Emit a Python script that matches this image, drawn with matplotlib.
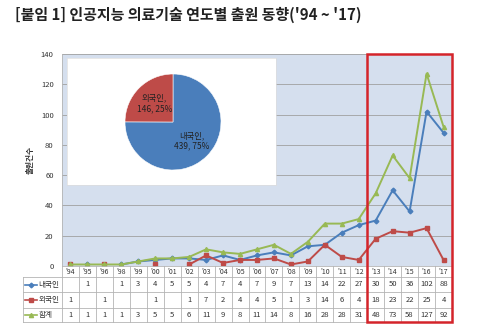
import numpy as np
import matplotlib
matplotlib.use("Agg")
import matplotlib.pyplot as plt
from matplotlib.patches import Rectangle

plt.rcParams['font.family'] = ['Noto Sans CJK KR', 'DejaVu Sans']

# filings per year (blank cells -> nan)
nan = np.nan
years = ["'94", "'95", "'96", "'98", "'99", "'00", "'01", "'02", "'03", "'04", "'05", "'06",
         "'07", "'08", "'09", "'10", "'11", "'12", "'13", "'14", "'15", "'16", "'17"]
domestic = [nan, 1, nan, 1, 3, 4, 5, 5, 4, 7, 4, 7, 9, 7, 13, 14, 22, 27, 30, 50, 36, 102, 88]
foreign = [1, nan, 1, nan, nan, 1, nan, 1, 7, 2, 4, 4, 5, 1, 3, 14, 6, 4, 18, 23, 22, 25, 4]
total = [1, 1, 1, 1, 3, 5, 5, 6, 11, 9, 8, 11, 14, 8, 16, 28, 28, 31, 48, 73, 58, 127, 92]
series_names = ['내국인', '외국인', '합계']

pie_names = ['내국인', '외국인']
pie_values = [439, 146]

highlight_from = "'13"

W, H = 480, 335
BLUE, RED, GREEN = '#4A7EBB', '#BE4B48', '#98B954'
GRID = '#B4B4B4'


def px(x0, y0, x1, y1):
    return [x0 / W, 1 - y1 / H, (x1 - x0) / W, (y1 - y0) / H]


fig = plt.figure(figsize=(W / 100, H / 100), dpi=100)
fig.text(15 / W, 1 - 15 / H, "[붙임 1] 인공지능 의료기술 연도별 출원 동향('94 ~ '17)",
         fontsize=10.8, fontweight='bold', va='center', color='#222222')

ax = fig.add_axes(px(62, 54, 452, 266))
ax.set_facecolor('#D5DFEE')
ax.yaxis.grid(True, color='#A0A0A0', lw=0.6)
ax.set_axisbelow(True)
for s in ['top', 'right']:
    ax.spines[s].set_visible(False)
for s in ['left', 'bottom']:
    ax.spines[s].set_color(GRID)
    ax.spines[s].set_linewidth(0.6)

x = np.arange(len(years))
styles = [(domestic, BLUE, 'D', 2.4), (foreign, RED, 's', 2.8), (total, GREEN, '^', 3.0)]
for vals, c, m, ms in styles:
    ax.plot(x, vals, color=c, marker=m, ms=ms, lw=1.4)

ax.set_xticks([])
ax.set_yticks(range(0, 141, 20))
ax.tick_params(axis='y', length=0, labelsize=5.5, labelcolor='#333333', pad=6)
fig.text(30 / W, 1 - 160 / H, '출원건수', rotation=90, fontsize=5.5, fontweight='bold',
         ha='center', va='center', color='#333333')

# data table under the axis
trans = ax.get_xaxis_transform()
unit = 390 / len(years)
yb = [(266 - p) / 212 for p in (266, 277, 292, 308, 322)]
xl = -0.5 - 39 / unit
for i in range(len(years) + 1):
    ax.plot([i - 0.5, i - 0.5], [yb[0], yb[-1]], color=GRID, lw=0.6, transform=trans, clip_on=False)
ax.plot([xl, xl], [yb[1], yb[-1]], color=GRID, lw=0.6, transform=trans, clip_on=False)
for yy in yb[1:]:
    ax.plot([xl, len(years) - 0.5], [yy, yy], color=GRID, lw=0.6, transform=trans, clip_on=False)

for i, yr in enumerate(years):
    ax.text(i, (yb[0] + yb[1]) / 2, yr, fontsize=5, ha='center', va='center',
            color='#333333', transform=trans)
rows = [domestic, foreign, total]
for r, (vals, name, (_, c, m, ms)) in enumerate(zip(rows, series_names, styles)):
    yc = (yb[r + 1] + yb[r + 2]) / 2
    for i, v in enumerate(vals):
        if not np.isnan(v):
            ax.text(i, yc, f'{int(v)}', fontsize=5.5, ha='center', va='center',
                    color='#333333', transform=trans)
    ax.plot([xl + 0.1, xl + 0.8], [yc, yc], color=c, lw=1.2, transform=trans, clip_on=False)
    ax.plot([xl + 0.45], [yc], color=c, marker=m, ms=ms, transform=trans, clip_on=False)
    ax.text(xl + 0.9, yc, name, fontsize=5.5, ha='left', va='center', color='#333333',
            transform=trans)

k = years.index(highlight_from)
ax.add_patch(Rectangle((k - 0.5, yb[-1]), len(years) - k, 1 - yb[-1], transform=trans,
                       fill=False, ec='#D4242A', lw=1.8, clip_on=False, zorder=5))
ax.set_xlim(-0.5, len(years) - 0.5)
ax.set_ylim(0, 140)

# inset pie of overall share
box = fig.add_axes(px(67, 58, 276, 185))
box.set_xticks([])
box.set_yticks([])
box.set_facecolor('white')
for s in box.spines.values():
    s.set_color('#DDDDDD')
    s.set_linewidth(0.5)

pax = fig.add_axes(px(125, 74, 221, 170))
tot = sum(pie_values)
labels = [f'{n},\n{v}, {round(100 * v / tot)}%' for n, v in zip(pie_names, pie_values)]
wedges, texts = pax.pie(pie_values, colors=[BLUE, RED], startangle=90, counterclock=False,
                        labels=labels, labeldistance=0.55,
                        wedgeprops=dict(edgecolor='white', linewidth=0.4),
                        textprops=dict(fontsize=6, color='#222222'))
for t in texts:
    t.set_ha('center')
    t.set_va('center')
pax.set_xlim(-1, 1)
pax.set_ylim(-1, 1)
pax.set_aspect('equal')
pax.axis('off')

fig.savefig('out.png', dpi=100)
